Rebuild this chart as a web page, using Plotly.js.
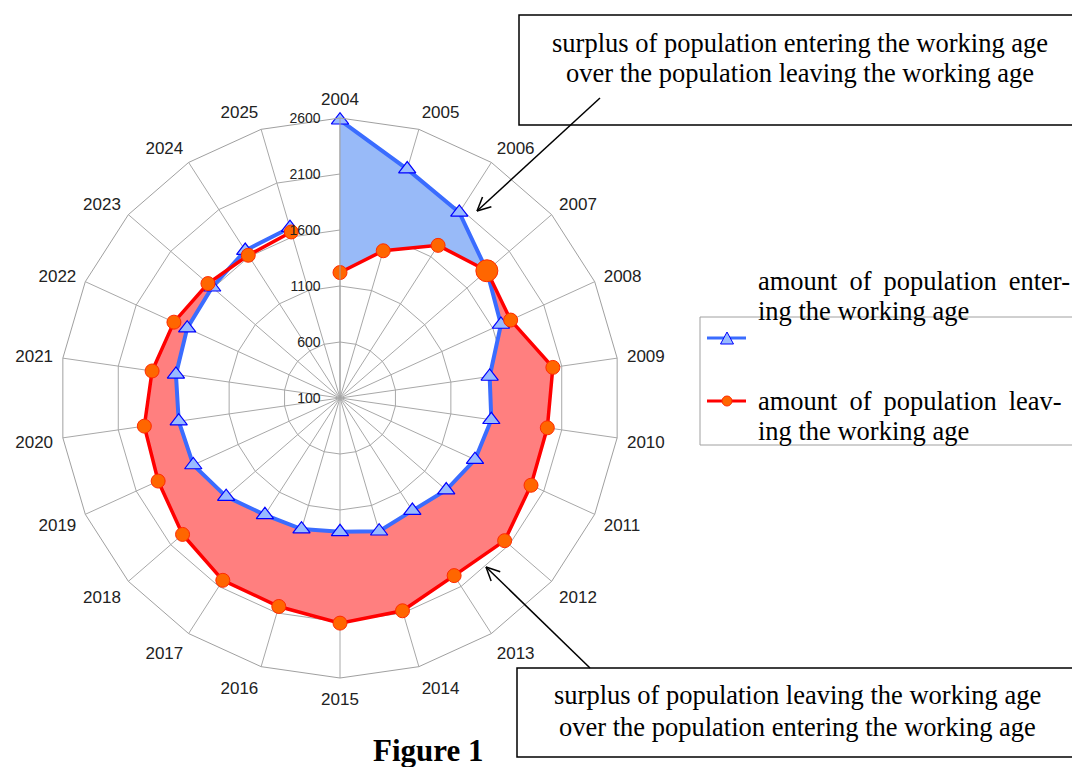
<!DOCTYPE html>
<html><head><meta charset="utf-8">
<script src="https://cdn.plot.ly/plotly-3.0.1.min.js"></script>
<style>html,body{margin:0;padding:0;background:#fff}#chart{width:1072px;height:767px}</style>
</head><body><div id="chart"></div>
<script>
const years = [2004,2005,2006,2007,2008,2009,2010,2011,2012,2013,2014,2015,2016,2017,2018,2019,2020,2021,2022,2023,2024,2025];
const entering = [2580,2230,2070,1835,1680,1450,1465,1425,1355,1295,1340,1295,1320,1340,1445,1540,1555,1580,1600,1610,1665,1685];
const leaving  = [1220,1470,1720,1835,1775,2020,1970,1975,2045,1985,2080,2110,2040,2035,1960,1885,1865,1795,1730,1660,1615,1645];
const radialTicks = [100,600,1100,1600,2100,2600];
const seriesNames = ['amount of population entering the working age','amount of population leaving the working age'];

const yearLabels = years.map(String);

function band(outerArr, innerArr, i0, i1) {
  const th = [], r = [];
  for (let i = i0; i <= i1; i++) { th.push(yearLabels[i]); r.push(outerArr[i]); }
  for (let i = i1; i >= i0; i--) { th.push(yearLabels[i]); r.push(innerArr[i]); }
  return {th, r};
}
const blueBand = band(entering, leaving, 0, 3);
const redBand = band(leaving, entering, 3, 19);

const W = 1072, H = 767;
const px = x => x / W, py = y => 1 - y / H;

const traces = [
  {type:'scatterpolar', theta: blueBand.th, r: blueBand.r, mode:'lines', fill:'toself',
   fillcolor:'#98baf8', line:{width:0, color:'rgba(0,0,0,0)'}, hoverinfo:'skip', showlegend:false},
  {type:'scatterpolar', theta: redBand.th, r: redBand.r, mode:'lines', fill:'toself',
   fillcolor:'#ff7f7f', line:{width:0, color:'rgba(0,0,0,0)'}, hoverinfo:'skip', showlegend:false},
  {type:'scatterpolar', name: seriesNames[0], theta: yearLabels, r: entering, mode:'lines+markers',
   line:{color:'#3a6cff', width:4},
   marker:{symbol:'triangle-up', size:15, opacity:1, color:'#99bbff', line:{color:'#0000ff', width:1.2}}, showlegend:false},
  {type:'scatterpolar', name: seriesNames[1], theta: yearLabels, r: leaving, mode:'lines+markers',
   line:{color:'#ff0000', width:3.5},
   marker:{symbol:'circle', size: yearLabels.map((y,i)=> i===3 ? 22 : 14), opacity:1, color:'#ff6600', line:{color:'#ff2a00', width:1}}, showlegend:false}
];

const shapes = [];
const annotations = [];
function rect(x0,y0,x1,y1,color,w){ shapes.push({type:'rect',xref:'paper',yref:'paper',x0:px(x0),x1:px(x1),y0:py(y0),y1:py(y1),line:{color:color,width:w},fillcolor:'rgba(0,0,0,0)'}); }
function seg(x0,y0,x1,y1,color,w){ shapes.push({type:'line',xref:'paper',yref:'paper',x0:px(x0),x1:px(x1),y0:py(y0),y1:py(y1),line:{color:color,width:w}}); }
function arrow(x0,y0,x1,y1){
  seg(x0,y0,x1,y1,'#000',1.5);
  const a = Math.atan2(y0-y1, x0-x1), L = 15, s = 0.45;
  seg(x1,y1,x1+L*Math.cos(a+s),y1+L*Math.sin(a+s),'#000',1.5);
  seg(x1,y1,x1+L*Math.cos(a-s),y1+L*Math.sin(a-s),'#000',1.5);
}
function txt(x,y,t,size,anchor,bold){
  annotations.push({xref:'paper',yref:'paper',x:px(x),y:py(y),text: bold?'<b>'+t+'</b>':t,showarrow:false,
    xanchor:anchor,yanchor:'middle',font:{family:'Liberation Serif, Times New Roman, serif',size:size,color:'#000'}});
}
const gap = ' \u2009';
const FS = 26.5;

// top box
rect(519,15,1085,125,'#000',1.5);
txt(800,43,'surplus of population entering the working age',FS,'center');
txt(800,73,'over the population leaving the working age',FS,'center');
arrow(600,98,477,211);
// bottom box
rect(517,668,1085,757,'#000',1.5);
txt(797,695,'surplus of population leaving the working age',FS,'center');
txt(797,727,'over the population entering the working age',FS,'center');
arrow(590,668,486,567);
// legend
rect(700,317,1085,445,'#a0a0a0',1);
seg(707,338,746,338,'#3a6cff',3);
shapes.push({type:'path',xref:'paper',yref:'paper',
  path:`M${px(720.5)},${py(344)} L${px(733.5)},${py(344)} L${px(727)},${py(332)} Z`,
  fillcolor:'#99bbff',line:{color:'#0000ff',width:1}});
seg(707,401,746,401,'#ff0000',3);
shapes.push({type:'circle',xref:'paper',yref:'paper',x0:px(722),x1:px(732),y0:py(396),y1:py(406),
  fillcolor:'#ff6600',line:{color:'#ff2a00',width:1}});
txt(756,281,'amount'+gap+'of'+gap+'population'+gap+'enter-',FS,'left');
txt(756,311,'ing the working age',FS,'left');
txt(756,401,'amount'+gap+'of'+gap+'population'+gap+'leav-',FS,'left');
txt(756,431,'ing the working age',FS,'left');
// caption
txt(428,750,'Figure 1',31,'center',true);

const layout = {
  width: W, height: H,
  margin:{l:0,r:0,t:0,b:0},
  paper_bgcolor:'#fff',
  showlegend:false,
  polar:{
    domain:{x:[60/W, 620/W], y:[(H-398-280)/H, (H-398+280)/H]},
    gridshape:'linear',
    bgcolor:'#fff',
    angularaxis:{type:'category', categoryarray: yearLabels, rotation:90, direction:'clockwise',
      showline:true, linecolor:'#a0a0a0', linewidth:1, gridcolor:'#a8a8a8', gridwidth:1,
      ticks:'outside', ticklen:6, tickcolor:'rgba(0,0,0,0)',
      tickfont:{family:'Liberation Sans, Arial, sans-serif', size:17, color:'#222'}},
    radialaxis:{range:[100,2600], tickvals: radialTicks, ticktext: radialTicks.map(String), angle:90, tickangle:90, side:'counterclockwise',
      showline:true, linecolor:'#a0a0a0', linewidth:1, gridcolor:'#a8a8a8', gridwidth:1,
      ticks:'outside', ticklen:14, tickcolor:'rgba(0,0,0,0)',
      tickfont:{family:'Liberation Sans, Arial, sans-serif', size:14, color:'#222'}}
  },
  shapes: shapes,
  annotations: annotations
};
Plotly.newPlot('chart', traces, layout, {displayModeBar:false, staticPlot:true});
</script></body></html>
